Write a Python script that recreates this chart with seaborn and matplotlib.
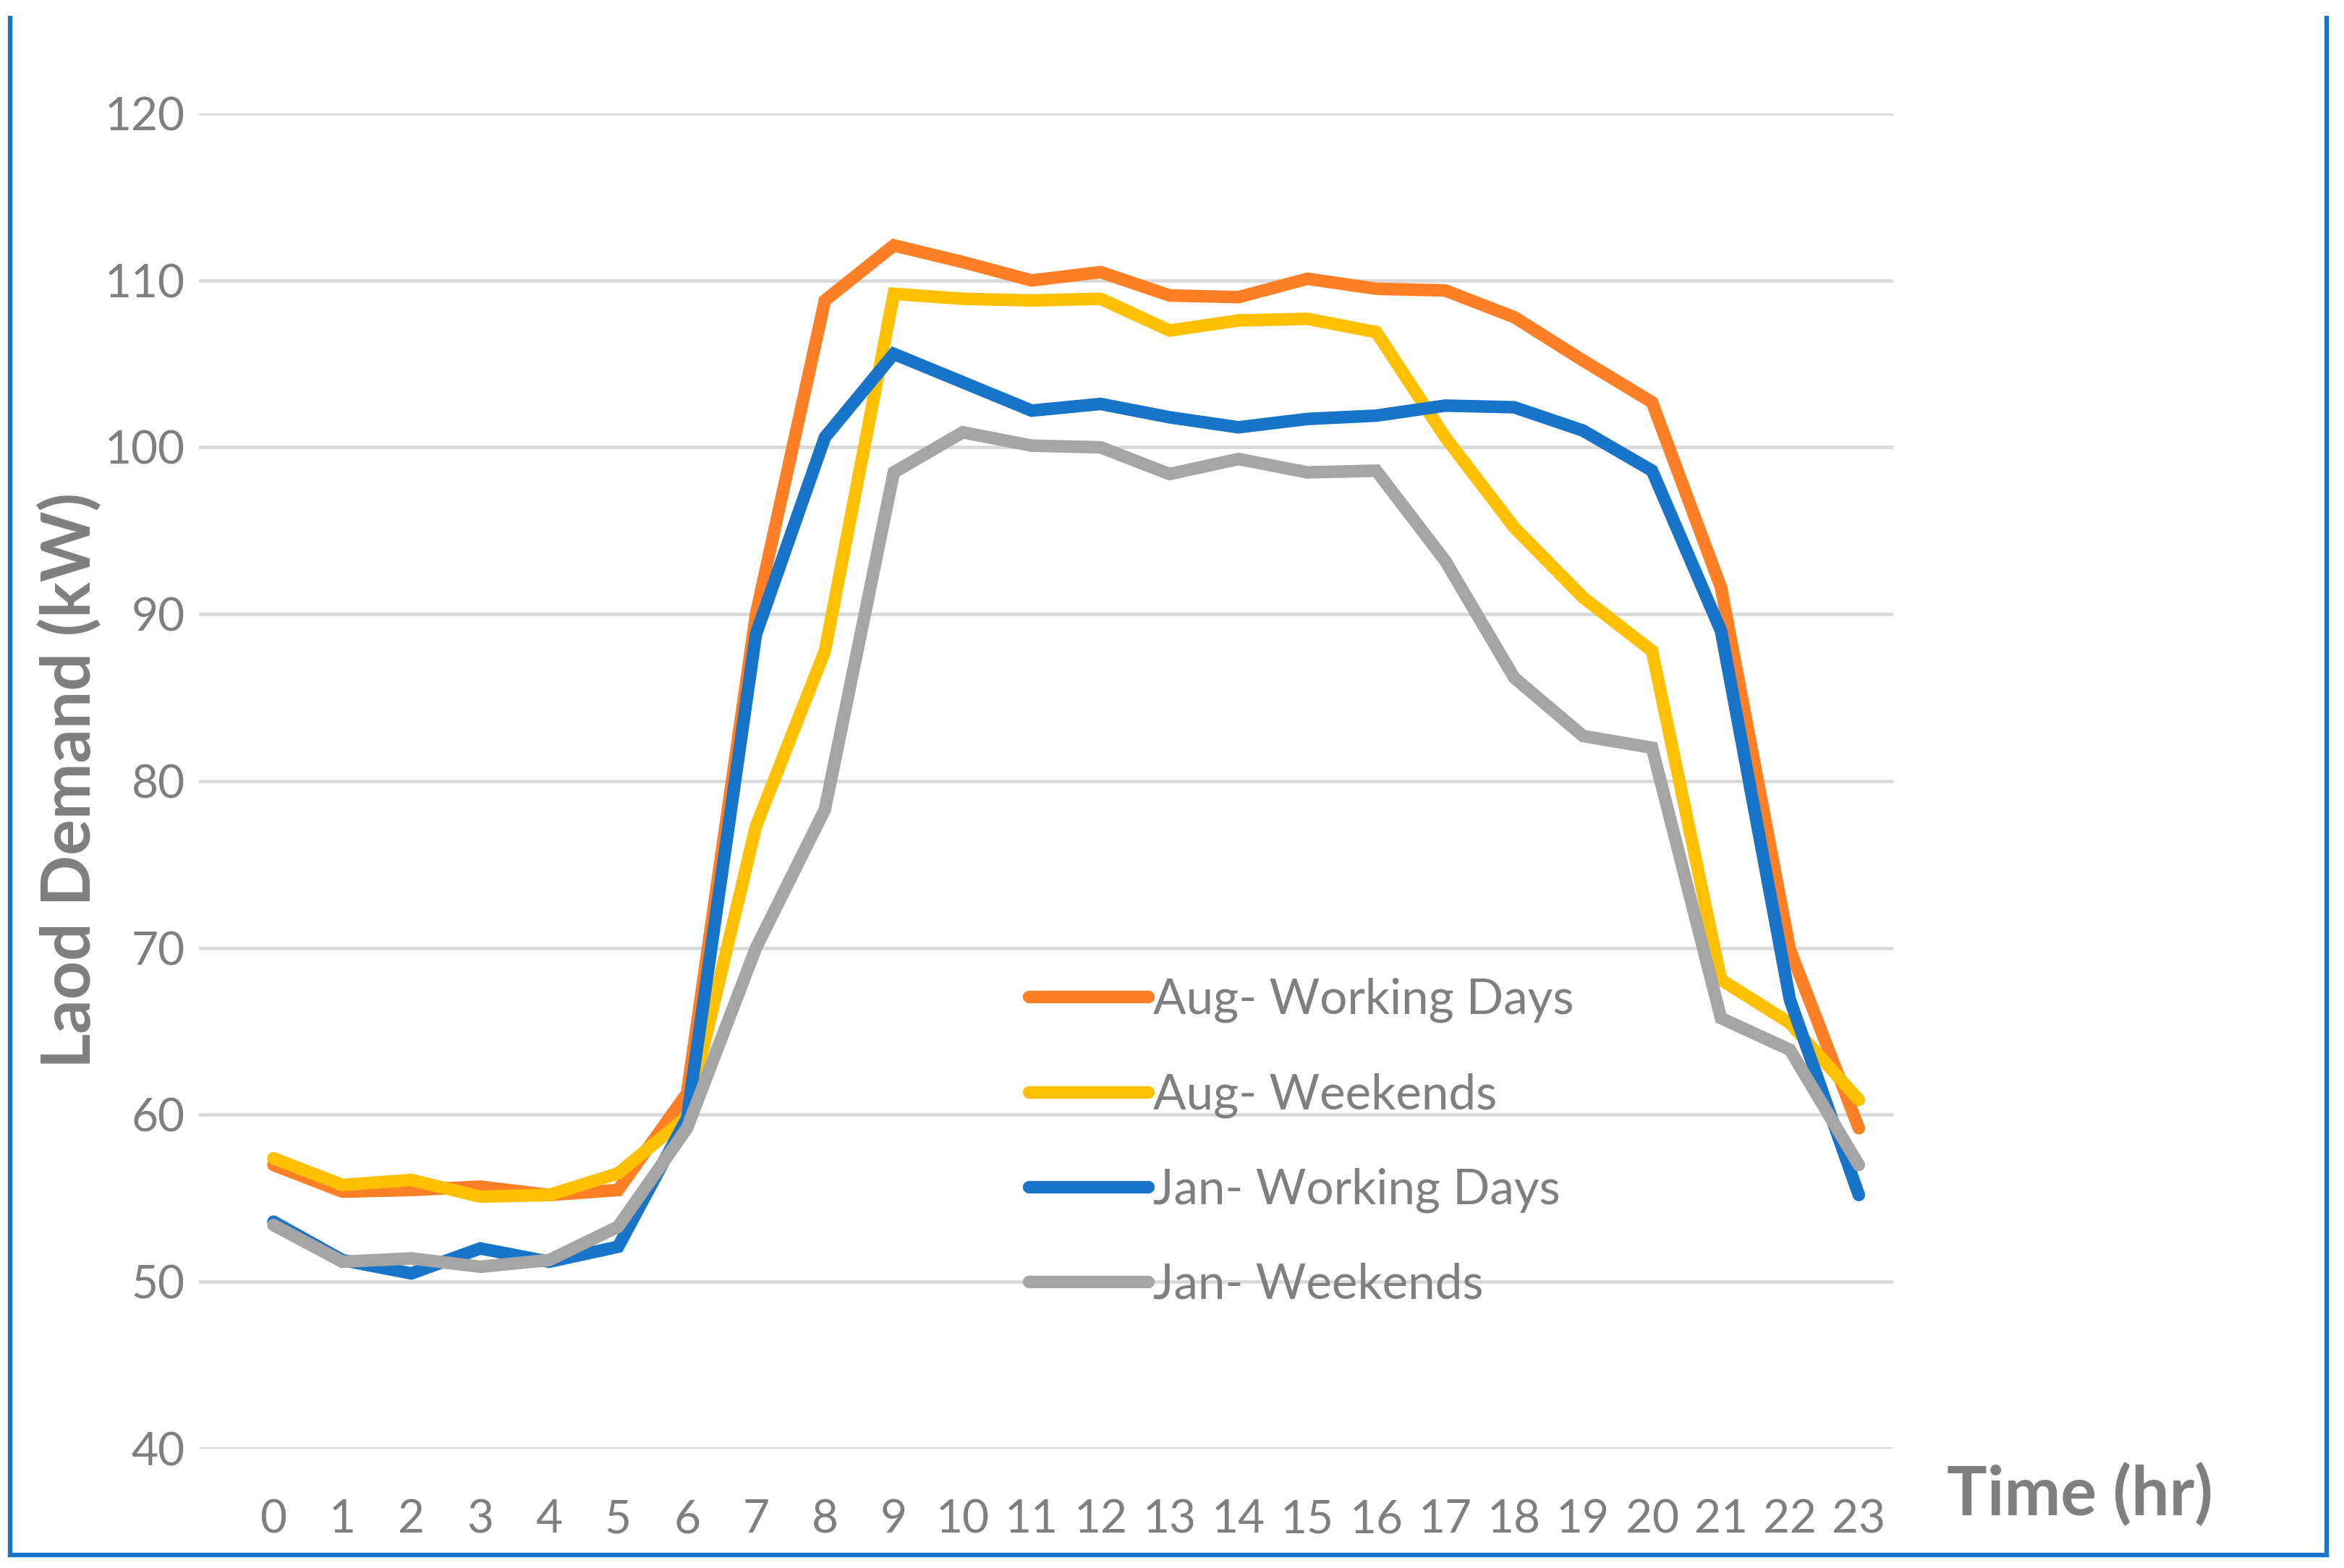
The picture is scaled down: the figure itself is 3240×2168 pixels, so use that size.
import matplotlib
matplotlib.use("Agg")
import matplotlib.pyplot as plt
from matplotlib.lines import Line2D
import seaborn as sns
import pandas as pd

hours = list(range(24))
aug_working = [57.0, 55.4, 55.5, 55.7, 55.2, 55.5, 61.3, 90.0, 108.8, 112.1, 111.1, 110.0,
               110.5, 109.1, 109.0, 110.1, 109.5, 109.4, 107.8, 105.2, 102.7, 91.6, 69.9, 59.2]
aug_weekends = [57.4, 55.8, 56.1, 55.1, 55.2, 56.5, 59.9, 77.3, 87.8, 109.2, 108.9, 108.8,
                108.9, 107.0, 107.6, 107.7, 106.9, 100.6, 95.2, 91.0, 87.8, 68.1, 65.5, 60.9]
jan_working = [53.6, 51.3, 50.5, 52.0, 51.2, 52.1, 59.8, 88.8, 100.6, 105.6, 103.9, 102.2,
               102.6, 101.8, 101.2, 101.7, 101.9, 102.5, 102.4, 101.0, 98.6, 89.0, 66.9, 55.2]
jan_weekends = [53.4, 51.2, 51.4, 50.9, 51.3, 53.3, 59.2, 70.0, 78.3, 98.5, 100.9, 100.1,
                100.0, 98.4, 99.3, 98.5, 98.6, 93.2, 86.2, 82.7, 82.0, 65.8, 63.9, 57.0]
series_names = ["Aug- Working Days", "Aug- Weekends", "Jan- Working Days", "Jan- Weekends"]
colors = ["#FF7F27", "#FFC000", "#1874C8", "#A5A5A5"]
y_ticks = [40, 50, 60, 70, 80, 90, 100, 110, 120]

rows = []
for name, vals in zip(series_names, [aug_working, aug_weekends, jan_working, jan_weekends]):
    for h, v in zip(hours, vals):
        rows.append({"hour": h, "load": v, "series": name})
df = pd.DataFrame(rows)

sns.set_theme(style="white")
plt.rcParams["font.family"] = ["Lato", "DejaVu Sans"]

W, H = 3241, 2168
DPI = 100
fig = plt.figure(figsize=(W / DPI, H / DPI), dpi=DPI)
fig.patch.set_facecolor("white")
ax = fig.add_axes([275 / W, 1 - 2003 / H, (2617 - 275) / W, (2003 - 157) / H])

gray_txt = "#7F7F7F"
for yv in y_ticks:
    ax.axhline(yv, color="#D9D9D9", lw=3.4, zorder=0)

LW = 12.5
sns.lineplot(data=df, x="hour", y="load", hue="series", hue_order=series_names,
             palette=colors, linewidth=LW, ax=ax, legend=False, sort=False)
for ln in ax.get_lines()[len(y_ticks):]:
    ln.set_solid_joinstyle("miter")
    ln.set_solid_capstyle("round")

ax.set_ylim(40, 120)
ax.set_xlim(-1.081, 23.5)
ax.set_yticks(y_ticks)
ax.set_xticks(hours)
ax.set_xticklabels([str(h) for h in hours])
for s in ax.spines.values():
    s.set_visible(False)
ax.tick_params(axis="both", length=0, labelsize=46, colors=gray_txt)
ax.tick_params(axis="y", pad=14)
ax.tick_params(axis="x", pad=50)
ax.set_xlabel("")
ax.set_ylabel("")
ax.grid(False)

fig.text(97 / W, 1 - 1079 / H, "Laod Demand (kW)", rotation=90, ha="center", va="center",
         fontsize=67, fontweight="bold", color=gray_txt)
fig.text(2875 / W, 1 - 2067 / H, "Time (hr)", ha="center", va="center",
         fontsize=67, fontweight="bold", color=gray_txt)

handles = [Line2D([0], [0], color=c, lw=LW, solid_capstyle="round") for c in colors]
leg = ax.legend(handles, series_names, loc="upper left",
                bbox_to_anchor=(1422 / W, 1 - 1352 / H), bbox_transform=fig.transFigure,
                frameon=False, fontsize=48.5, handlelength=2.45, handletextpad=0.1,
                labelspacing=1.02, borderpad=0, borderaxespad=0)
for t in leg.get_texts():
    t.set_color(gray_txt)

# chart border (left, bottom, right)
bc = "#1874C8"
blw = 4.5
fig.add_artist(Line2D([14 / W, 14 / W], [1 - 25 / H, 1 - 2150 / H], color=bc, lw=blw,
                      transform=fig.transFigure, solid_capstyle="projecting"))
fig.add_artist(Line2D([14 / W, 3216 / W], [1 - 2150 / H, 1 - 2150 / H], color=bc, lw=blw,
                      transform=fig.transFigure, solid_capstyle="projecting"))
fig.add_artist(Line2D([3216 / W, 3216 / W], [1 - 2150 / H, 1 - 25 / H], color=bc, lw=blw,
                      transform=fig.transFigure, solid_capstyle="projecting"))

fig.savefig("out.png", dpi=DPI, facecolor="white")
